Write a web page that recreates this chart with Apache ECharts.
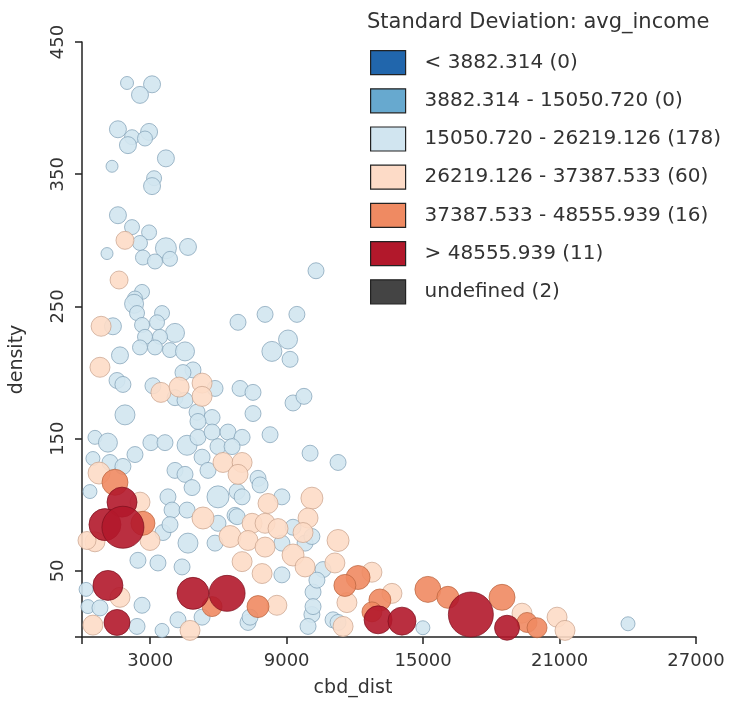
<!DOCTYPE html>
<html>
<head>
<meta charset="utf-8">
<title>density vs cbd_dist</title>
<script src="https://cdn.jsdelivr.net/npm/echarts@6/dist/echarts.min.js"></script>
<style>
  html, body { margin: 0; padding: 0; background: #fff; }
  #chart { width: 730px; height: 707px; }
</style>
</head>
<body>
<div id="chart"></div>
<script>
// [cbd_dist, density, bubble size]
const classNames = [
  '< 3882.314 (0)',
  '3882.314 - 15050.720 (0)',
  '15050.720 - 26219.126 (178)',
  '26219.126 - 37387.533 (60)',
  '37387.533 - 48555.939 (16)',
  '> 48555.939 (11)',
  'undefined (2)'
]
const classColors = ['#2166ac', '#67a9cf', '#d1e5f0', '#fddbc7', '#ef8a62', '#b2182b', '#444444']
const classBorders = ['#123d6b', '#3f7499', '#7f9fb5', '#c9a28b', '#b9653f', '#7c0f1d', '#222222']

const xTicks = [0, 3000, 9000, 15000, 21000, 27000]
const xLabels = [3000, 9000, 15000, 21000, 27000]
const yTicks = [0, 50, 150, 250, 350, 450]
const yLabels = [50, 150, 250, 350, 450]

const veryLow = []
const low = []
const lightBlue = [
  [1980, 419, 13], [3080, 418, 17], [2550, 410, 17], [1580, 384, 17], [2950, 382, 17], [2200, 378, 15],
  [2020, 372, 17], [2770, 377, 15], [3690, 362, 17], [1320, 356, 12], [3170, 347, 15], [3080, 341, 17],
  [1580, 319, 17], [2200, 310, 15], [2950, 306, 15], [2550, 298, 15], [3690, 294, 21], [4660, 295, 17],
  [1100, 290, 12], [2680, 287, 15], [3210, 284, 15], [3870, 286, 15], [2640, 261, 15], [2330, 256, 15],
  [2290, 252, 19], [2420, 245, 15], [3520, 245, 15], [1360, 235, 17], [2640, 236, 15], [3300, 238, 15],
  [4090, 230, 19], [2770, 227, 15], [3430, 227, 15], [2550, 219, 15], [3210, 219, 15], [3870, 217, 15],
  [4530, 216, 19], [1670, 213, 17], [6860, 238, 16], [8050, 244, 16], [9450, 244, 16], [9060, 225, 19],
  [8350, 216, 20], [9150, 210, 16], [4880, 202, 16], [4440, 200, 16], [1540, 194, 16], [1800, 191, 16],
  [3120, 190, 16], [5850, 188, 16], [4090, 181, 16], [4530, 179, 16], [6950, 188, 16], [7520, 185, 16],
  [7520, 169, 16], [9280, 177, 16], [9760, 182, 16], [1890, 168, 20], [5060, 170, 16], [5720, 166, 16],
  [5100, 163, 16], [8270, 153, 16], [10030, 139, 16], [11260, 132, 16], [10290, 277, 16], [570, 151, 14],
  [1140, 147, 19], [3030, 147, 16], [3650, 147, 16], [4620, 145, 20], [5100, 151, 16], [5720, 155, 16],
  [6420, 155, 16], [7040, 151, 16], [5980, 144, 16], [6600, 144, 16], [2330, 138, 16], [1230, 132, 16],
  [1800, 129, 16], [5280, 136, 16], [4090, 126, 16], [4530, 123, 16], [5540, 126, 16], [7740, 120, 16],
  [350, 110, 14], [4840, 113, 16], [5980, 106, 22], [6820, 110, 16], [7830, 115, 16], [8790, 106, 16],
  [3780, 106, 16], [3960, 96, 16], [4620, 96, 16], [5980, 86, 16], [6730, 92, 16], [9280, 83, 16],
  [3560, 79, 16], [3870, 85, 16], [8790, 71, 16], [9810, 71, 16], [4660, 71, 20], [5850, 71, 16],
  [2460, 58, 16], [3340, 56, 16], [4400, 53, 16], [8790, 47, 16], [260, 23, 14], [790, 22, 16],
  [2640, 24, 16], [2420, 8, 16], [4220, 13, 16], [5280, 15, 16], [7300, 11, 16], [10160, 34, 16],
  [10110, 17, 16], [9940, 8, 16], [10110, 76, 16], [10600, 51, 16], [10330, 43, 16], [10160, 23, 16],
  [11040, 13, 16], [14990, 7, 14], [24010, 10, 14], [7040, 106, 16], [6820, 91, 16], [7390, 15, 16],
  [11260, 11, 16], [480, 135, 14], [180, 36, 14], [3520, 5, 14]
]
const peach = [
  [1890, 300, 18], [1630, 270, 18], [840, 235, 20], [790, 204, 20], [3470, 185, 20], [4270, 189, 20],
  [5280, 192, 20], [5280, 182, 20], [6200, 132, 20], [7040, 132, 20], [750, 124, 22], [6860, 123, 20],
  [10110, 105, 22], [8180, 101, 20], [2550, 102, 20], [5320, 90, 22], [7480, 86, 20], [8050, 86, 20],
  [8620, 82, 20], [9940, 90, 20], [570, 72, 20], [2990, 73, 20], [6510, 76, 22], [7300, 73, 20],
  [8050, 68, 20], [9280, 62, 22], [7040, 57, 20], [7920, 48, 20], [9810, 53, 20], [1670, 30, 20],
  [8570, 24, 20], [480, 9, 20], [4750, 5, 20], [9720, 79, 20], [11260, 73, 22], [11120, 56, 20],
  [12750, 49, 20], [11650, 26, 20], [13630, 33, 20], [11480, 8, 20], [19350, 18, 20], [20890, 15, 20],
  [21240, 5, 20], [220, 73, 18]
]
const orange = [
  [1450, 117, 26], [2680, 86, 24], [7740, 23, 22], [5720, 23, 20], [12140, 45, 24], [11560, 39, 22],
  [13100, 28, 22], [15210, 36, 26], [16090, 30, 22], [18470, 30, 26], [19570, 11, 20], [20010, 7, 20],
  [12750, 19, 20]
]
const red = [
  [1760, 102, 30], [1010, 85, 32], [1800, 83, 42], [1140, 39, 30], [1540, 11, 26], [4880, 33, 32],
  [6380, 33, 36], [13020, 13, 28], [14070, 12, 28], [17100, 17, 45], [18690, 7, 25]
]
const undefinedPts = []

const classData = [veryLow, low, lightBlue, peach, orange, red, undefinedPts]

const font = 'DejaVu Sans'
const chart = echarts.init(document.getElementById('chart'))

chart.setOption({
  animation: false,
  backgroundColor: '#fff',
  textStyle: { fontFamily: font },
  title: {
    text: 'Standard Deviation: avg_income',
    left: 367,
    top: 12,
    padding: 0,
    textStyle: { fontFamily: font, fontSize: 21, fontWeight: 'normal', color: '#333' }
  },
  legend: {
    orient: 'vertical',
    left: 370,
    top: 50,
    padding: 0,
    itemWidth: 35,
    itemHeight: 24,
    itemGap: 13,
    icon: 'rect',
    data: classNames,
    itemStyle: { borderColor: '#222', borderWidth: 1.2, opacity: 1 },
    textStyle: { fontFamily: font, fontSize: 20, color: '#333', padding: [0, 0, 0, 14] }
  },
  grid: { left: 82, right: 34, top: 42, bottom: 70, containLabel: false, outerBoundsMode: 'none' },
  xAxis: {
    type: 'value',
    min: 0,
    max: 27000,
    name: 'cbd_dist',
    nameLocation: 'middle',
    nameGap: 42,
    nameTextStyle: { fontFamily: font, fontSize: 19, color: '#333', padding: [0, 72, 0, 0] },
    axisLine: { lineStyle: { color: '#222', width: 1.5 } },
    axisTick: { customValues: xTicks, length: 7, lineStyle: { color: '#222', width: 1.5 } },
    axisLabel: {
      customValues: xLabels,
      formatter: v => String(v),
      fontFamily: font, fontSize: 18, color: '#333', margin: 15
    },
    splitLine: { show: false }
  },
  yAxis: {
    type: 'value',
    min: 0,
    max: 450,
    name: 'density',
    nameLocation: 'middle',
    nameGap: 55,
    nameTextStyle: { fontFamily: font, fontSize: 19, color: '#333', padding: [0, 40, 0, 0] },
    axisLine: { onZero: false, lineStyle: { color: '#222', width: 1.5 } },
    axisTick: { customValues: yTicks, length: 7, lineStyle: { color: '#222', width: 1.5 } },
    axisLabel: {
      customValues: yLabels,
      formatter: v => String(v),
      rotate: 90, fontFamily: font, fontSize: 18, color: '#333', margin: 15
    },
    splitLine: { show: false }
  },
  series: classNames.map((name, i) => ({
    name: name,
    type: 'scatter',
    data: classData[i],
    symbol: 'circle',
    symbolSize: v => v[2],
    itemStyle: {
      color: classColors[i],
      borderColor: classBorders[i],
      borderWidth: 0.8,
      opacity: 0.9
    },
    emphasis: { disabled: true }
  }))
})
</script>
</body>
</html>
